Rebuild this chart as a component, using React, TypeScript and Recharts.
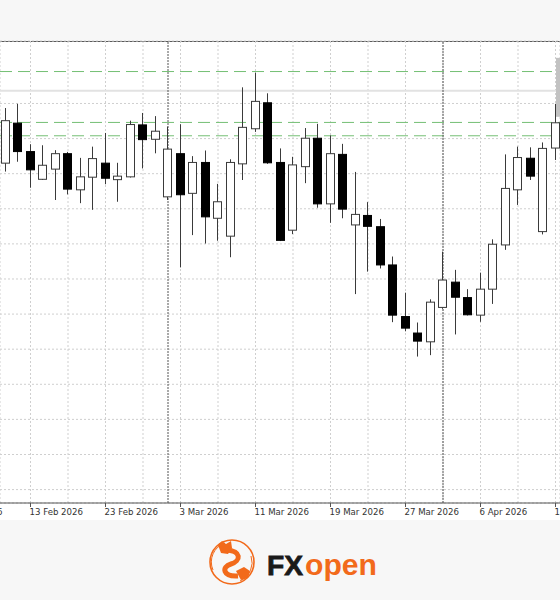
import React from 'react';
import { ComposedChart, Bar, XAxis, YAxis, CartesianGrid, ReferenceLine, ReferenceArea } from 'recharts';

// Trading days 11 Feb 2026 .. 14 Apr 2026 (index 0..44)
const dates = [
  '11 Feb', '12 Feb', '13 Feb', '16 Feb', '17 Feb', '18 Feb', '19 Feb', '20 Feb', '23 Feb', '24 Feb',
  '25 Feb', '26 Feb', '27 Feb', '2 Mar', '3 Mar', '4 Mar', '5 Mar', '6 Mar', '9 Mar', '10 Mar',
  '11 Mar', '12 Mar', '13 Mar', '16 Mar', '17 Mar', '18 Mar', '19 Mar', '20 Mar', '23 Mar', '24 Mar',
  '25 Mar', '26 Mar', '27 Mar', '30 Mar', '31 Mar', '1 Apr', '2 Apr', '3 Apr', '6 Apr', '7 Apr',
  '8 Apr', '9 Apr', '10 Apr', '13 Apr', '14 Apr',
];

const opens = [
  193.0, 204.4, 196.3, 188.4, 191.3, 195.7, 185.4, 189.0, 193.0, 188.3,
  189.1, 203.9, 199.8, 183.4, 195.7, 184.4, 193.2, 177.3, 172.2, 192.8,
  202.8, 210.2, 193.2, 173.9, 192.0, 200.1, 181.4, 195.5, 175.4, 178.1,
  174.9, 164.0, 149.3, 144.6, 142.1, 151.9, 159.1, 154.7, 149.7, 157.1,
  169.7, 185.4, 194.4, 173.5, 197.3,
];
const highs = [
  208.7, 209.9, 198.4, 198.1, 196.7, 196.2, 194.5, 197.7, 201.6, 193.1,
  205.1, 207.3, 206.4, 203.4, 204.1, 195.0, 196.6, 187.1, 194.1, 214.6,
  218.8, 212.9, 197.2, 194.8, 203.0, 204.2, 200.9, 198.5, 190.5, 181.9,
  177.1, 166.4, 156.1, 147.6, 154.2, 167.8, 162.6, 157.1, 161.8, 171.3,
  195.5, 197.7, 197.5, 198.9, 209.9,
];
const lows = [
  190.6, 193.4, 186.0, 188.2, 182.5, 184.1, 181.6, 179.7, 187.0, 182.0,
  188.9, 191.5, 195.8, 182.5, 163.3, 172.5, 170.1, 170.9, 166.2, 188.2,
  201.9, 192.8, 170.8, 172.8, 187.3, 180.3, 176.0, 177.3, 155.7, 162.1,
  163.0, 147.7, 145.1, 137.9, 138.3, 151.5, 144.2, 149.6, 147.8, 152.9,
  168.3, 181.1, 188.2, 172.7, 193.9,
];
const closes = [
  205.1, 196.3, 191.1, 192.4, 195.7, 185.6, 189.1, 194.3, 188.7, 189.3,
  204.0, 199.7, 202.1, 197.0, 184.0, 193.2, 177.7, 182.0, 193.2, 203.2,
  210.6, 193.1, 171.0, 192.5, 200.1, 181.4, 195.7, 179.9, 178.4, 175.0,
  164.0, 149.7, 146.0, 142.3, 153.4, 159.7, 154.8, 149.8, 157.1, 169.9,
  185.8, 194.6, 189.3, 197.2, 204.5,
];

// axis ticks every 3 bars (grid), labels every 6 bars
const gridIndex = [-4, -1, 2, 5, 8, 11, 14, 17, 20, 23, 26, 29, 32, 35, 38, 41, 44];
const labelIndex = [-4, 2, 8, 14, 20, 26, 32, 38, 44];
const tickLabels = [
  '5 Feb 2026', '13 Feb 2026', '23 Feb 2026', '3 Mar 2026', '11 Mar 2026',
  '19 Mar 2026', '27 Mar 2026', '6 Apr 2026', '14 Apr 2026',
];
const monthSeparators = [13, 35];
const gridPrices = [100, 110, 120, 130, 140, 150, 160, 170, 180, 190, 200, 210];
const greenLevels = [219.1, 204.6, 200.8];
const grayLevel = 213.6;
const priceLabel = [206.2, 223.0];

const data = dates.map((d, i) => ({
  i,
  date: d,
  open: opens[i],
  high: highs[i],
  low: lows[i],
  close: closes[i],
  range: [lows[i], highs[i]],
}));

const Candle = (props: any) => {
  const { x, y, width, height, payload } = props;
  if (!payload || height == null) return null;
  const { open, close, high, low } = payload;
  const ratio = height / (high - low);
  const cx = Math.floor(x + width / 2) + 0.5;
  const top = y + (high - Math.max(open, close)) * ratio;
  const bottom = y + (high - Math.min(open, close)) * ratio;
  const bull = close >= open;
  return (
    <g>
      <line x1={cx} x2={cx} y1={y} y2={y + height} stroke="#3a3a3a" strokeWidth={1} />
      <rect
        x={cx - 4}
        y={top}
        width={8}
        height={Math.max(1, bottom - top)}
        fill={bull ? '#ffffff' : '#000000'}
        stroke={bull ? '#3a3a3a' : '#000000'}
        strokeWidth={1}
      />
    </g>
  );
};

const DateTick = (props: any) => {
  const { x, y, payload } = props;
  const idx = labelIndex.indexOf(payload.value);
  if (idx < 0) return <g />;
  return (
    <g>
      <line x1={x} x2={x} y1={y - 6} y2={y - 2} stroke="#555" strokeWidth={1} />
      <text x={x - 1} y={y} dy={6} textAnchor="start" fontFamily="DejaVu Sans, sans-serif" fontSize={8.6} fill="#333">
        {tickLabels[idx]}
      </text>
    </g>
  );
};

const Logo = () => (
  <svg width={560} height={80} style={{ position: 'absolute', left: 0, top: 520 }}>
    <g transform="translate(0,-520)">
      <circle cx={232} cy={562} r={22} fill="none" stroke="#f26a1b" strokeWidth={1.6} />
      <path d="M 213 570 A 20 20 0 0 1 225 543" fill="none" stroke="#f26a1b" strokeWidth={1} />
      <path d="M 251 556 A 20 20 0 0 1 240 581" fill="none" stroke="#f26a1b" strokeWidth={1} />
      <path d="M 226 550 C 242 551, 241 561, 231 564 C 221 567, 223 577, 238 576" fill="none" stroke="#f26a1b" strokeWidth={5} />
      <path d="M 218 545 L 222 541 L 226 544 L 231 541 L 232 548 L 228 554 L 221 553 Z" fill="#f26a1b" />
      <path d="M 236 571 L 244 567 L 250 571 L 248 578 L 241 580 Z" fill="#f26a1b" />
      <text x={267} y={575} fontFamily="Liberation Sans, Arial, sans-serif" fontWeight={900} fontSize={28} fill="#1a1a1a" textLength={36} lengthAdjust="spacingAndGlyphs" stroke="#1a1a1a" strokeWidth={0.8}>FX</text>
      <text x={305} y={575} fontFamily="Liberation Sans, Arial, sans-serif" fontWeight={700} fontSize={30} fill="#f26a1b" textLength={72} lengthAdjust="spacingAndGlyphs">open</text>
    </g>
  </svg>
);

export default function App() {
  return (
    <div style={{ position: 'absolute', left: 0, top: 0, width: 560, height: 600, background: '#f7f7f7', overflow: 'hidden' }}>
      <div style={{ position: 'absolute', left: 0, top: 41, width: 560, height: 479, background: '#ffffff', borderTop: '1px solid #5a5a5a', boxSizing: 'border-box' }} />
      <div style={{ position: 'absolute', left: 0, top: 0 }}>
        <ComposedChart width={560} height={520} data={data} margin={{ top: 41, right: 0, bottom: 0, left: 0 }}>
          <XAxis
            dataKey="i"
            type="number"
            domain={[-0.44, 44.36]}
            allowDataOverflow
            ticks={gridIndex}
            interval={0}
            height={17}
            tickSize={4}
            tickMargin={2}
            axisLine={{ stroke: '#555', strokeWidth: 1 }}
            tickLine={false}
            tick={<DateTick />}
          />
          <YAxis hide domain={[96.18, 227.8]} allowDataOverflow ticks={gridPrices} interval={0} />
          <CartesianGrid stroke="#cfcfcf" strokeDasharray="2 2" />
          <ReferenceLine y={grayLevel} stroke="#e2e2e2" strokeWidth={2} zIndex={-50} />
          {greenLevels.map((p) => (
            <ReferenceLine key={'g' + p} y={p} stroke="#74bf74" strokeDasharray="12 6" strokeWidth={1} zIndex={-50} />
          ))}
          {monthSeparators.map((k) => (
            <ReferenceLine key={'s' + k} x={k} stroke="#555" strokeDasharray="2 1" strokeWidth={1} zIndex={-40} />
          ))}
          <ReferenceArea x1={44.04} x2={44.36} y1={priceLabel[0]} y2={priceLabel[1]} fill="#c2c2c2" fillOpacity={1} stroke="none" ifOverflow="visible" />
          <Bar dataKey="range" barSize={8} shape={<Candle />} isAnimationActive={false} />
        </ComposedChart>
      </div>
      <Logo />
    </div>
  );
}
